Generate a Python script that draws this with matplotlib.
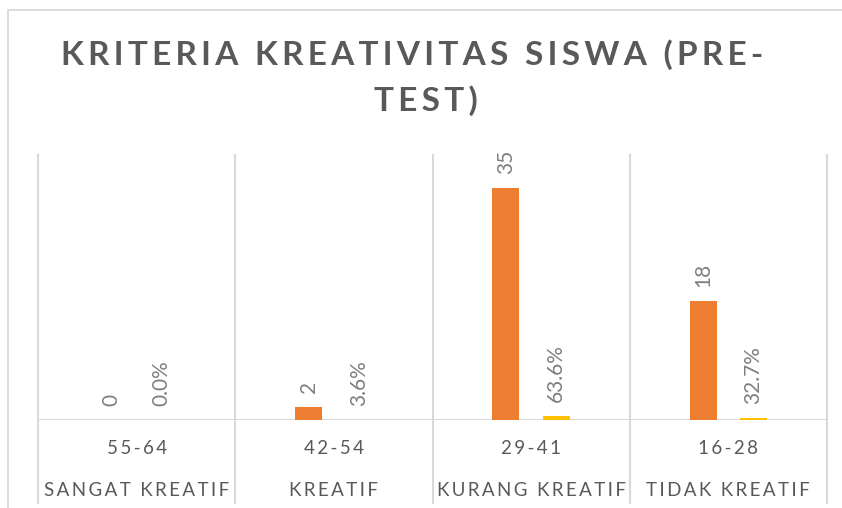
import matplotlib
matplotlib.use("Agg")
import matplotlib.pyplot as plt
from matplotlib.lines import Line2D
from matplotlib.patches import Rectangle
import matplotlib.transforms as mtrans

plt.rcParams['font.family'] = ['Lato', 'DejaVu Sans']

ranges = ["55-64", "42-54", "29-41", "16-28"]
criteria = ["SANGAT KREATIF", "KREATIF", "KURANG KREATIF", "TIDAK KREATIF"]
counts = [0, 2, 35, 18]
percents = [0.0, 0.036, 0.636, 0.327]

ORANGE = "#ED7D31"
YELLOW = "#FFC000"
GRID = "#D9D9D9"
TXT = "#595959"
LBL = "#7F7F7F"

W, H = 842, 508
fig = plt.figure(figsize=(W / 100, H / 100), dpi=100)

# chart border
fig.add_artist(Rectangle((8 / W, -0.1), 1.2, 1 - 10 / H + 0.1, transform=fig.transFigure,
                         fill=False, edgecolor=GRID, linewidth=1.3))

left, right, top, bottom = 38, 827, 155, 420
ax = fig.add_axes([left / W, 1 - bottom / H, (right - left) / W, (bottom - top) / H])
ax.set_xlim(-0.5, len(ranges) - 0.5)
ax.set_ylim(0, 40)
for s in ax.spines.values():
    s.set_visible(False)
ax.set_xticks([])
ax.set_yticks([])

def spaced(t, sp="\u2009"):
    return sp.join(t)

x = range(len(ranges))
bw = 0.137
off = 0.128
ax.bar([i - off for i in x], counts, width=bw, color=ORANGE, zorder=3)
ax.bar([i + off for i in x], percents, width=bw, color=YELLOW, zorder=3)

for i, v in enumerate(counts):
    ax.annotate(str(v), (i - off, v), xytext=(0, 10), textcoords="offset points",
                rotation=90, ha="center", va="bottom", color=LBL, fontsize=15)
for i, v in enumerate(percents):
    ax.annotate(f"{v * 100:.1f}%", (i + off, v), xytext=(0, 10), textcoords="offset points",
                rotation=90, ha="center", va="bottom", color=LBL, fontsize=15)

# baseline
ax.axhline(0, color=GRID, linewidth=1.5, zorder=2)

# separators extending down through the category labels
trans = mtrans.blended_transform_factory(ax.transData, fig.transFigure)
for b in [i - 0.5 for i in range(len(ranges) + 1)]:
    ax.add_line(Line2D([b, b], [1 - 503 / H, 1 - top / H], transform=trans,
                       color=GRID, linewidth=1.5, clip_on=False, zorder=1))

for i in x:
    ax.text(i, 1 - 448 / H, spaced(ranges[i]), transform=trans, ha="center", va="center",
            fontsize=13.5, color=TXT)
    ax.text(i, 1 - 491 / H, spaced(criteria[i]), transform=trans, ha="center", va="center",
            fontsize=13.5, color=TXT)

fig.text(412 / W, 1 - 55 / H, spaced("KRITERIA KREATIVITAS SISWA (PRE-", "\u200a\u200a"),
         ha="center", va="center", fontsize=24, fontweight="bold", color=TXT)
fig.text(426 / W, 1 - 101 / H, spaced("TEST)", "\u200a\u200a"), ha="center", va="center",
         fontsize=24, fontweight="bold", color=TXT)

fig.savefig("out.png", dpi=100)
